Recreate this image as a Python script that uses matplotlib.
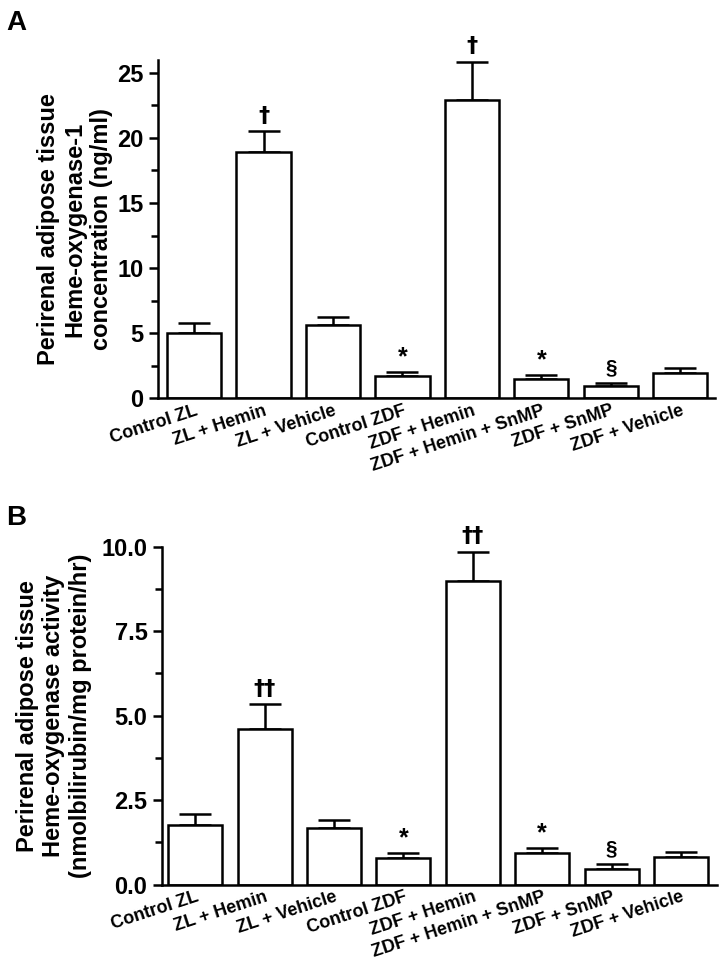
import matplotlib.pyplot as plt
import numpy as np
from matplotlib.ticker import MultipleLocator, FormatStrFormatter

plt.rcParams['font.family'] = ['Liberation Sans', 'DejaVu Sans']
plt.rcParams['font.weight'] = 'bold'

groups = ['Control ZL', 'ZL + Hemin', 'ZL + Vehicle', 'Control ZDF',
          'ZDF + Hemin', 'ZDF + Hemin + SnMP', 'ZDF + SnMP', 'ZDF + Vehicle']

# panel A: HO-1 concentration (ng/ml)
ho1_mean = [5.0, 18.9, 5.6, 1.7, 22.9, 1.5, 0.92, 1.9]
ho1_err = [0.8, 1.6, 0.6, 0.3, 2.95, 0.25, 0.26, 0.4]
ho1_marks = ['', '\u2020', '', '*', '\u2020', '*', '\u00a7', '']

# panel B: HO activity (nmol bilirubin/mg protein/hr)
act_mean = [1.76, 4.6, 1.66, 0.79, 8.98, 0.92, 0.47, 0.82]
act_err = [0.32, 0.73, 0.25, 0.15, 0.87, 0.17, 0.14, 0.13]
act_marks = ['', '\u2020\u2020', '', '*', '\u2020\u2020', '*', '\u00a7', '']

fig = plt.figure(figsize=(7.22, 9.61), dpi=100)
axA = fig.add_axes([0.2188, 0.5858, 0.7715, 0.3518])
axB = fig.add_axes([0.2244, 0.0796, 0.7687, 0.3515])

x = np.arange(len(groups))


def draw(ax, mean, err, marks, ylim, major, minor, fmt, ylabel, xlim, lpad):
    ax.bar(x, mean, width=0.78, color='white', edgecolor='black', linewidth=1.8, zorder=2)
    ax.errorbar(x, mean, yerr=[np.zeros(len(err)), err], fmt='none', ecolor='black',
                elinewidth=1.8, capsize=11.5, capthick=1.8, zorder=1)
    for xi, m, e, s in zip(x, mean, err, marks):
        if not s:
            continue
        if s == '*':
            ax.annotate(s, (xi, m + e), xytext=(0, 2), textcoords='offset points',
                        ha='center', va='bottom', fontsize=18, fontweight='bold')
        elif s == '\u00a7':
            ax.annotate(s, (xi, m + e), xytext=(0, 4), textcoords='offset points',
                        ha='center', va='bottom', fontsize=15, fontweight='bold')
        else:
            ax.annotate(s, (xi, m + e), xytext=(0, 4), textcoords='offset points',
                        ha='center', va='bottom', fontsize=16, fontweight='bold',
                        family='DejaVu Sans')
    ax.set_xlim(*xlim)
    ax.set_ylim(*ylim)
    ax.yaxis.set_major_locator(MultipleLocator(major))
    ax.yaxis.set_minor_locator(MultipleLocator(minor))
    if fmt:
        ax.yaxis.set_major_formatter(FormatStrFormatter(fmt))
    ax.spines['top'].set_visible(False)
    ax.spines['right'].set_visible(False)
    ax.spines['left'].set_linewidth(1.8)
    ax.spines['bottom'].set_linewidth(1.8)
    ax.tick_params(axis='y', which='major', length=6.5, width=1.8, labelsize=17, pad=4)
    ax.tick_params(axis='y', which='minor', length=5, width=1.8)
    ax.tick_params(axis='x', length=0, pad=3)
    ax.set_xticks(x)
    ax.set_xticklabels(groups, rotation=18, ha='right', va='top',
                       rotation_mode='anchor', fontsize=13, fontweight='bold')
    for lab in ax.get_yticklabels():
        lab.set_fontweight('bold')
    ax.set_ylabel(ylabel, fontsize=17, fontweight='bold', linespacing=1.2, labelpad=lpad)


draw(axA, ho1_mean, ho1_err, ho1_marks, (0, 26), 5, 2.5, None,
     'Perirenal adipose tissue\nHeme-oxygenase-1\nconcentration (ng/ml)', (-0.52, 7.5), 3)
draw(axB, act_mean, act_err, act_marks, (0, 10), 2.5, 1.25, '%.1f',
     'Perirenal adipose tissue\nHeme-oxygenase activity\n(nmolbilirubin/mg protein/hr)', (-0.48, 7.52), 7)

fig.text(0.009, 0.99, 'A', fontsize=20, fontweight='bold', va='top')
fig.text(0.009, 0.475, 'B', fontsize=20, fontweight='bold', va='top')

fig.savefig('out.png', dpi=100)
